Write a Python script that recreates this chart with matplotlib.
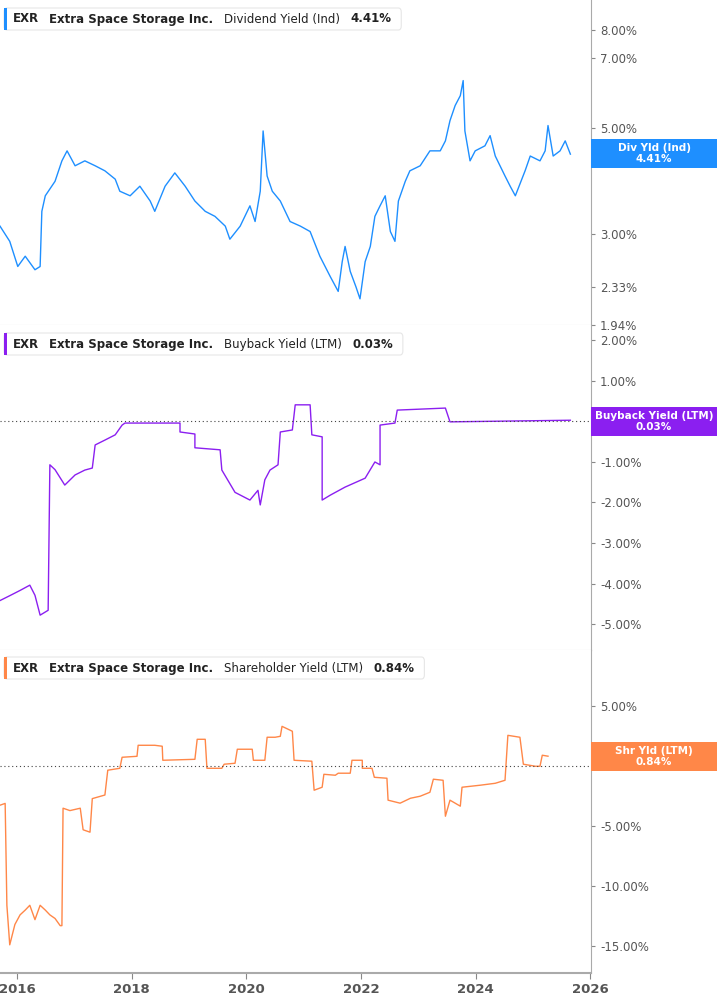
import matplotlib.pyplot as plt
from matplotlib.patches import Rectangle, FancyBboxPatch
import matplotlib.ticker as mticker

# dividend yield (Ind), %
div_years = [2015.70, 2015.87, 2016.01, 2016.14, 2016.31, 2016.40, 2016.43, 2016.49, 2016.66, 2016.78,
             2016.87, 2017.01, 2017.18, 2017.36, 2017.53, 2017.71, 2017.79, 2017.97, 2018.14, 2018.32,
             2018.40, 2018.58, 2018.75, 2018.93, 2019.10, 2019.28, 2019.45, 2019.63, 2019.71, 2019.89,
             2020.06, 2020.15, 2020.24, 2020.29, 2020.36, 2020.45, 2020.59, 2020.76, 2020.94, 2021.11,
             2021.28, 2021.46, 2021.60, 2021.67, 2021.72, 2021.81, 2021.91, 2021.98, 2022.07, 2022.16,
             2022.24, 2022.33, 2022.42, 2022.51, 2022.59, 2022.65, 2022.77, 2022.85, 2023.03, 2023.20,
             2023.38, 2023.47, 2023.55, 2023.64, 2023.73, 2023.78, 2023.81, 2023.90, 2023.99, 2024.16,
             2024.25, 2024.34, 2024.51, 2024.60, 2024.69, 2024.86, 2024.95, 2025.12, 2025.21, 2025.26,
             2025.35, 2025.47, 2025.56, 2025.65]
div_vals = [3.12, 2.90, 2.57, 2.70, 2.53, 2.57, 3.35, 3.61, 3.87, 4.27,
            4.48, 4.17, 4.27, 4.17, 4.07, 3.91, 3.69, 3.61, 3.78, 3.52,
            3.35, 3.78, 4.03, 3.78, 3.52, 3.35, 3.27, 3.12, 2.93, 3.12,
            3.44, 3.19, 3.69, 4.93, 3.97, 3.69, 3.52, 3.19, 3.12, 3.04,
            2.70, 2.45, 2.28, 2.63, 2.83, 2.51, 2.33, 2.20, 2.63, 2.83,
            3.27, 3.44, 3.61, 3.04, 2.90, 3.52, 3.87, 4.07, 4.17, 4.48,
            4.48, 4.70, 5.18, 5.57, 5.84, 6.28, 4.93, 4.27, 4.48, 4.59,
            4.82, 4.37, 3.97, 3.78, 3.61, 4.07, 4.37, 4.27, 4.48, 5.06,
            4.37, 4.48, 4.70, 4.41]

# buyback yield (LTM), %
bb_years = [2015.70, 2015.87, 2016.05, 2016.22, 2016.31, 2016.40, 2016.54, 2016.57, 2016.66, 2016.83,
            2017.01, 2017.18, 2017.31, 2017.36, 2017.53, 2017.71, 2017.83, 2017.88, 2018.84, 2018.84,
            2019.10, 2019.10, 2019.54, 2019.57, 2019.80, 2020.06, 2020.20, 2020.24, 2020.32, 2020.41,
            2020.55, 2020.59, 2020.80, 2020.85, 2021.11, 2021.14, 2021.32, 2021.32, 2021.46, 2021.72,
            2022.07, 2022.24, 2022.33, 2022.33, 2022.59, 2022.63, 2023.47, 2023.55, 2025.65]
bb_vals = [-4.42, -4.30, -4.17, -4.04, -4.29, -4.78, -4.66, -1.07, -1.19, -1.57,
           -1.32, -1.20, -1.15, -0.58, -0.46, -0.33, -0.09, -0.04, -0.04, -0.26,
           -0.31, -0.65, -0.70, -1.20, -1.75, -1.94, -1.70, -2.06, -1.44, -1.20,
           -1.07, -0.26, -0.21, 0.41, 0.41, -0.33, -0.38, -1.94, -1.82, -1.62,
           -1.40, -1.00, -1.07, -0.09, -0.04, 0.28, 0.33, -0.01, 0.03]

# shareholder yield (LTM), %
sh_years = [2015.70, 2015.79, 2015.82, 2015.87, 2015.96, 2016.05, 2016.14, 2016.22, 2016.31, 2016.40,
            2016.49, 2016.57, 2016.66, 2016.75, 2016.78, 2016.80, 2016.92, 2017.10, 2017.15, 2017.27,
            2017.31, 2017.53, 2017.58, 2017.79, 2017.83, 2018.09, 2018.11, 2018.40, 2018.53, 2018.54,
            2019.10, 2019.14, 2019.28, 2019.31, 2019.57, 2019.61, 2019.80, 2019.84, 2020.10, 2020.12,
            2020.32, 2020.36, 2020.50, 2020.59, 2020.62, 2020.80, 2020.83, 2021.14, 2021.18, 2021.32,
            2021.35, 2021.55, 2021.60, 2021.81, 2021.84, 2022.02, 2022.02, 2022.19, 2022.23, 2022.45,
            2022.47, 2022.68, 2022.86, 2023.03, 2023.20, 2023.26, 2023.43, 2023.47, 2023.55, 2023.73,
            2023.76, 2024.08, 2024.34, 2024.51, 2024.56, 2024.77, 2024.83, 2025.04, 2025.12, 2025.16,
            2025.26]
sh_vals = [-3.25, -3.1, -11.6, -14.9, -13.2, -12.4, -12.0, -11.6, -12.8, -11.6,
           -12.0, -12.4, -12.7, -13.3, -13.3, -3.5, -3.7, -3.5, -5.3, -5.5,
           -2.7, -2.4, -0.33, -0.17, 0.75, 0.83, 1.75, 1.75, 1.67, 0.5,
           0.58, 2.25, 2.25, -0.17, -0.17, 0.17, 0.25, 1.42, 1.42, 0.5,
           0.5, 2.42, 2.42, 2.5, 3.33, 2.92, 0.5, 0.42, -2.0, -1.75,
           -0.67, -0.75, -0.58, -0.58, 0.5, 0.5, -0.17, -0.17, -0.92, -1.0,
           -2.83, -3.08, -2.67, -2.5, -2.17, -1.08, -1.17, -4.17, -2.83, -3.33,
           -1.75, -1.58, -1.42, -1.17, 2.58, 2.42, 0.17, 0.0, 0.0, 0.92,
           0.84]

div_ticks = [1.94, 2.33, 3.0, 5.0, 7.0, 8.0]
bb_ticks = [-5, -4, -3, -2, -1, 1, 2]
sh_ticks = [-15, -10, -5, 0, 5]
year_ticks = [2016, 2018, 2020, 2022, 2024, 2026]

BLUE = '#1e8fff'
PURPLE = '#8b1ff0'
ORANGE = '#ff8748'
GREY = '#555555'

fig = plt.figure(figsize=(7.17, 10.05), dpi=100)
W = 591 / 717
ax1 = fig.add_axes([0, 1 - 325 / 1005, W, 325 / 1005])
ax2 = fig.add_axes([0, 1 - 650 / 1005, W, 325 / 1005])
ax3 = fig.add_axes([0, 1 - 973 / 1005, W, 323 / 1005])

for ax in (ax1, ax2, ax3):
    ax.set_xlim(2015.70, 2026.01)
    for s in ('top', 'left'):
        ax.spines[s].set_visible(False)
    ax.spines['right'].set_color('#aaaaaa')
    ax.spines['bottom'].set_color('#cccccc')
    ax.yaxis.tick_right()
    ax.tick_params(axis='y', colors=GREY, labelsize=8.5, length=3, direction='out', color='#888888')
    ax.set_xticks(year_ticks)

ax1.plot(div_years, div_vals, color=BLUE, lw=1)
ax1.set_yscale('log')
ax1.set_ylim(1.94, 9.25)
ax1.yaxis.set_major_locator(mticker.FixedLocator(div_ticks))
ax1.yaxis.set_minor_locator(mticker.NullLocator())
ax1.set_yticklabels([f'{t:.2f}%' for t in div_ticks])

ax2.plot(bb_years, bb_vals, color=PURPLE, lw=1)
ax2.set_ylim(-5.64, 2.38)
ax2.set_yticks(bb_ticks)
ax2.set_yticklabels([f'{t:.2f}%' for t in bb_ticks])
ax2.axhline(0, color='#444444', lw=0.8, ls=(0, (1, 2.5)))

ax3.plot(sh_years, sh_vals, color=ORANGE, lw=1)
ax3.set_ylim(-17.25, 9.7)
ax3.set_yticks(sh_ticks)
ax3.set_yticklabels([f'{t:.2f}%' for t in sh_ticks])
ax3.axhline(0, color='#444444', lw=0.8, ls=(0, (1, 2.5)))

for ax in (ax1, ax2):
    ax.tick_params(axis='x', length=0, labelbottom=False)
ax3.spines['bottom'].set_color('#aaaaaa')
ax3.spines['bottom'].set_linewidth(1.5)
ax3.tick_params(axis='x', colors=GREY, labelsize=9.5, length=4, color='#888888')
for lab in ax3.get_xticklabels():
    lab.set_fontweight('bold')

# legend boxes: texts chained left to right
fig.canvas.draw()
renderer = fig.canvas.get_renderer()
legends = [(8, 'Dividend Yield (Ind)', '4.41%', BLUE),
           (333, 'Buyback Yield (LTM)', '0.03%', PURPLE),
           (657, 'Shareholder Yield (LTM)', '0.84%', ORANGE)]
for ytop, name, val, col in legends:
    yc = 1 - (ytop + 11) / 1005
    x = 13
    parts = [('EXR', 'bold', 10), ('Extra Space Storage Inc.', 'bold', 11), (name, 'normal', 10), (val, 'bold', 10)]
    for txt, weight, gap in parts:
        t = fig.text(x / 717, yc, txt, fontsize=8.5, fontweight=weight, color='#222222', va='center')
        x = t.get_window_extent(renderer).x1 + gap
    wpx = x - 4
    fig.patches.append(FancyBboxPatch((4 / 717, 1 - (ytop + 22) / 1005), wpx / 717, 22 / 1005,
                                      boxstyle='round,pad=0,rounding_size=0.004',
                                      transform=fig.transFigure, fc='white', ec='#e6e6e6', lw=0.8))
    fig.patches.append(Rectangle((4 / 717, 1 - (ytop + 22) / 1005), 3 / 717, 22 / 1005,
                                 transform=fig.transFigure, fc=col, ec='none'))

# right value labels
tags = [(139, 'Div Yld (Ind)', '4.41%', BLUE),
        (407, 'Buyback Yield (LTM)', '0.03%', PURPLE),
        (742, 'Shr Yld (LTM)', '0.84%', ORANGE)]
for ytop, name, val, col in tags:
    fig.patches.append(Rectangle((591 / 717, 1 - (ytop + 29) / 1005), 126 / 717, 29 / 1005,
                                 transform=fig.transFigure, fc=col, ec='none'))
    xc = 654 / 717
    fig.text(xc, 1 - (ytop + 9) / 1005, name, color='white', fontsize=7.5, fontweight='bold', ha='center', va='center')
    fig.text(xc, 1 - (ytop + 20) / 1005, val, color='white', fontsize=7.5, fontweight='bold', ha='center', va='center')

fig.savefig('out.png', dpi=100)
